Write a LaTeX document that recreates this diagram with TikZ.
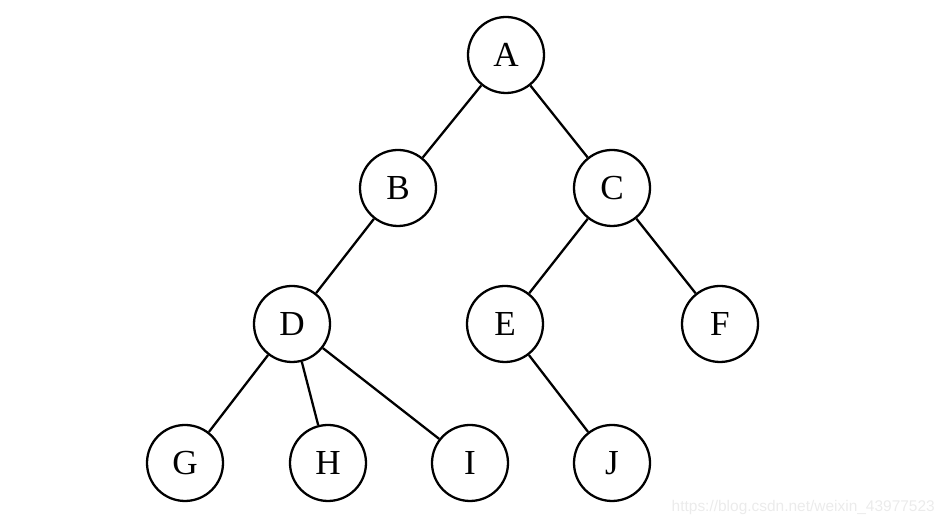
\documentclass[tikz,border=0pt]{standalone}
\usepackage{fontspec}
\setmainfont{Liberation Serif}
\newfontfamily\wmfont{Liberation Sans}
\usetikzlibrary{positioning}

\tikzset{
  vertex/.style={circle,draw,line width=1.3pt,minimum size=1.52cm,inner sep=0pt,
    font=\fontsize{20}{23}\selectfont},
  edge/.style={line width=1.3pt}
}

\begin{document}
\begin{tikzpicture}
\useasboundingbox (0,0) rectangle (19.02,10.46);
% vertices
\node[vertex] (A) at (10.12,9.36) {A};
\node[vertex] (B) at (7.96,6.70) {B};
\node[vertex] (C) at (12.24,6.70) {C};
\node[vertex] (D) at (5.84,3.98) {D};
\node[vertex] (E) at (10.10,3.98) {E};
\node[vertex] (F) at (14.40,3.98) {F};
\node[vertex] (G) at (3.70,1.20) {G};
\node[vertex] (H) at (6.56,1.20) {H};
\node[vertex] (I) at (9.40,1.20) {I};
\node[vertex] (J) at (12.24,1.20) {J};
% edges
\draw[edge] (A) -- (B);
\draw[edge] (A) -- (C);
\draw[edge] (B) -- (D);
\draw[edge] (C) -- (E);
\draw[edge] (C) -- (F);
\draw[edge] (D) -- (G);
\draw[edge] (D) -- (H);
\draw[edge] (D) -- (I);
\draw[edge] (E) -- (J);
% watermark
\node[anchor=east,text=black!8,font=\wmfont\fontsize{8.8}{10}\selectfont] (wm) at (18.82,0.3) {https://blog.csdn.net/weixin\_43977523};
\end{tikzpicture}
\end{document}
